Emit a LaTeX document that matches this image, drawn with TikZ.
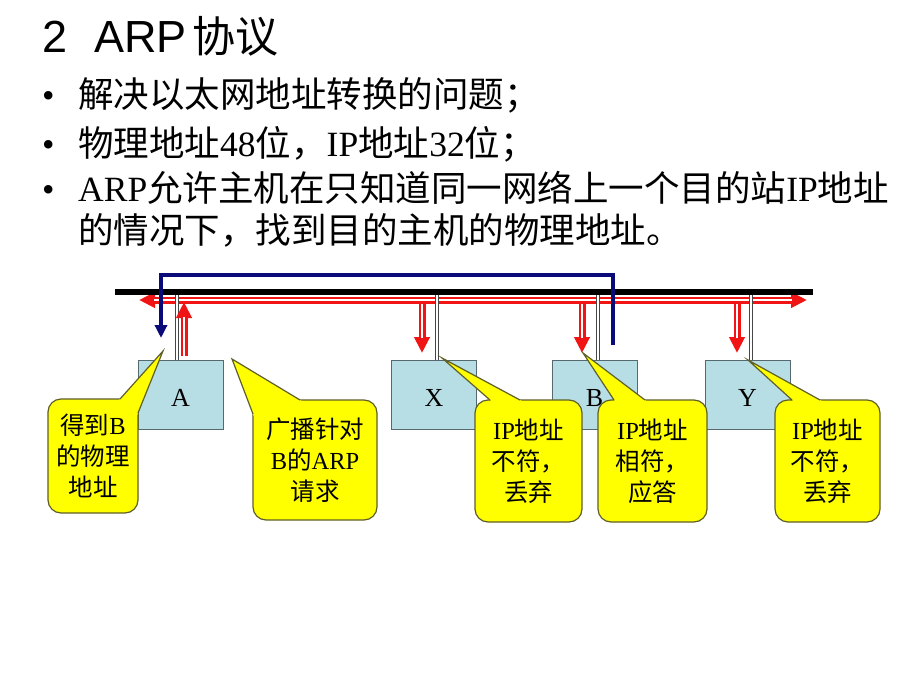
\documentclass[tikz,border=0pt]{standalone}
\usepackage{fontspec}
\setmainfont{Liberation Serif}
\newfontfamily\cjk{Noto Sans CJK SC}
\newfontfamily\arialf{Liberation Sans}
\usetikzlibrary{arrows.meta,calc}
\definecolor{boxfill}{RGB}{183,222,228}
\definecolor{boxline}{RGB}{85,105,110}
\definecolor{calfill}{RGB}{255,255,0}
\definecolor{calline}{RGB}{95,95,40}
\definecolor{arrowred}{RGB}{240,20,20}
\definecolor{navyline}{RGB}{10,10,120}
\definecolor{cablecol}{RGB}{70,70,70}
\newcommand\cjt[1]{{\cjk #1}}
\newcommand\calloutwedge[3]{%
  \fill[calfill] (#1) -- ($(#1)!1.1!(#2)$) -- ($(#1)!1.1!(#3)$) -- cycle;
  \draw[calline, line width=1.2pt, line join=miter] (#2) -- (#1) -- (#3);}
\begin{document}
\begin{tikzpicture}[x=1pt,y=-1pt,
  hostbox/.style={draw=boxline, fill=boxfill, line width=1pt, minimum width=85pt, minimum height=69pt, inner sep=0pt},
  boxlabel/.style={inner sep=0pt, font=\fontsize{26}{30}\selectfont, anchor=base},
  callout/.style={draw=calline, fill=calfill, line width=1.2pt, rounded corners=13pt, inner sep=0pt, align=center, font=\fontsize{24.5}{31}\selectfont},
  cable/.style={draw=cablecol, line width=0.8pt, double=white, double distance=1.8pt},
  redout/.style={draw=arrowred, line width=7pt},
  redin/.style={draw=white, line width=2.6pt},
  redtip/.style={-{Triangle[length=16pt,width=15pt]}},
  bigtext/.style={inner sep=0pt, anchor=base west, font=\fontsize{35.5}{42}\selectfont},
]
\fill[white] (0,0) rectangle (920,690);
\useasboundingbox (0,0) rectangle (920,690);

% title and bullets
\node[inner sep=0pt, anchor=base west, font=\fontsize{45}{50}\selectfont] (title) at (42,53)
  {\arialf 2\hspace{27pt}ARP\hspace{6pt}{\cjk\fontsize{43}{50}\selectfont 协议}};
\node[bigtext] (b1dot) at (42,107) {•};
\node[bigtext] (b1) at (78,107) {\cjt{解决以太网地址转换的问题；}};
\node[bigtext] (b2dot) at (42,156) {•};
\node[bigtext] (b2) at (78,156) {\cjt{物理地址}48\cjt{位，}IP\cjt{地址}32\cjt{位；}};
\node[bigtext] (b3dot) at (42,201) {•};
\node[bigtext] (b3) at (78,201) {ARP\cjt{允许主机在只知道同一网络上一个目的站}IP\cjt{地址}};
\node[bigtext] (b4) at (78,243) {\cjt{的情况下，找到目的主机的物理地址。}};

% hosts
\node[hostbox] (A) at (180.5,394.5) {};
\node[hostbox] (X) at (434,394.5) {};
\node[hostbox] (B) at (594.5,394.5) {};
\node[hostbox] (Y) at (747.5,394.5) {};
\node[boxlabel] (Al) at (180.5,406) {A};
\node[boxlabel] (Xl) at (434,406) {X};
\node[boxlabel] (Bl) at (594.5,406) {B};
\node[boxlabel] (Yl) at (747.5,406) {Y};

% bus, broadcast
\coordinate (busL) at (115,292);
\coordinate (busR) at (813,292);
\coordinate (rl) at (139,300);
\coordinate (rr) at (807,300);
\draw[redout, {Triangle[length=16pt,width=15pt]}-{Triangle[length=16pt,width=15pt]}] (rl) -- (rr);
\draw[redin, shorten <=15pt, shorten >=15pt] (rl) -- (rr);

% cables
\coordinate (Ac) at ($(A.north)+(-3.5,0)$);
\coordinate (Xc) at ($(X.north)+(3,0)$);
\coordinate (Bc) at ($(B.north)+(3.5,0)$);
\coordinate (Yc) at ($(Y.north)+(3.5,0)$);
\foreach \c in {Ac,Xc,Bc,Yc} {\draw[cable] (\c |- busL) -- (\c);}
\draw[line width=5.5pt] (busL) -- (busR);

% red arrows at stations
\coordinate (Aa) at (184,356); \coordinate (Ab) at (184,302);
\coordinate (Xa) at (422,304); \coordinate (Xb) at (422,353);
\coordinate (Ba) at (582,304); \coordinate (Bb) at (582,353);
\coordinate (Ya) at (737,304); \coordinate (Yb) at (737,353);
\foreach \s in {A,X,B,Y} {
  \draw[redout, redtip] (\s a) -- (\s b);
  \draw[redin, shorten >=15pt] (\s a) -- (\s b);
}

% reply
\coordinate (bs) at (613,345);
\coordinate (be) at (161,338);
\coordinate (btop) at (0,275);
\draw[navyline, line width=3.4pt, line join=miter, -{Triangle[length=13pt,width=12pt]}]
  (bs) -- (bs |- btop) -- (be |- btop) -- (be);

% callouts
\node[callout, minimum width=90pt, minimum height=114pt] (c1) at (93,456)
  {\cjt{得到}B\\\cjt{的物理}\\\cjt{地址}};
\coordinate (t1) at (163,351); \coordinate (p1a) at (120,399); \coordinate (p1b) at (138,413);
\calloutwedge{t1}{p1a}{p1b}

\node[callout, minimum width=124pt, minimum height=120pt] (c2) at (315,460)
  {\cjt{广播针对}\\B\cjt{的}ARP\\\cjt{请求}};
\coordinate (t2) at (232,359); \coordinate (p2a) at (253,414); \coordinate (p2b) at (300,400);
\calloutwedge{t2}{p2a}{p2b}

\node[callout, minimum width=107pt, minimum height=122pt] (c3) at (528.5,461)
  {IP\cjt{地址}\\\cjt{不符，}\\\cjt{丢弃}};
\coordinate (t3) at (442,358); \coordinate (p3a) at (490,400); \coordinate (p3b) at (520,400);
\calloutwedge{t3}{p3a}{p3b}

\node[callout, minimum width=109pt, minimum height=122pt] (c4) at (652.5,461)
  {IP\cjt{地址}\\\cjt{相符，}\\\cjt{应答}};
\coordinate (t4) at (583,353); \coordinate (p4a) at (614,400); \coordinate (p4b) at (645,400);
\calloutwedge{t4}{p4a}{p4b}

\node[callout, minimum width=105pt, minimum height=122pt] (c5) at (827.5,461)
  {IP\cjt{地址}\\\cjt{不符，}\\\cjt{丢弃}};
\coordinate (t5) at (748,360); \coordinate (p5a) at (792,400); \coordinate (p5b) at (820,400);
\calloutwedge{t5}{p5a}{p5b}
\end{tikzpicture}
\end{document}
